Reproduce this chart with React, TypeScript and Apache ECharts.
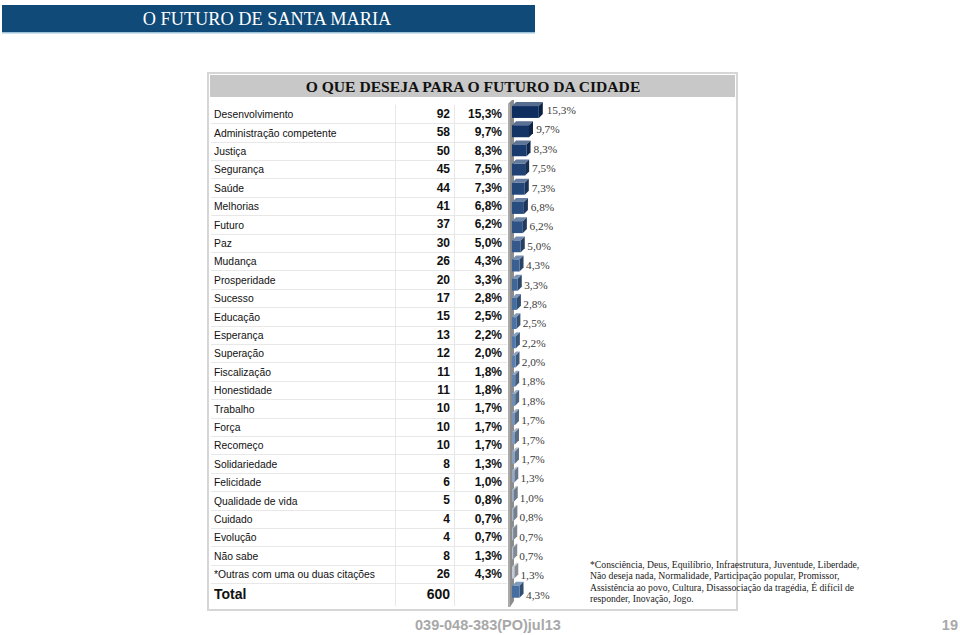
import React, { useEffect, useRef } from "react";
import * as echarts from "echarts";

const categories = [
  "Desenvolvimento", "Administração competente", "Justiça", "Segurança", "Saúde",
  "Melhorias", "Futuro", "Paz", "Mudança", "Prosperidade", "Sucesso", "Educação",
  "Esperança", "Superação", "Fiscalização", "Honestidade", "Trabalho", "Força",
  "Recomeço", "Solidariedade", "Felicidade", "Qualidade de vida", "Cuidado",
  "Evolução", "Não sabe", "*Outras com uma ou duas citações",
];
const counts = [92, 58, 50, 45, 44, 41, 37, 30, 26, 20, 17, 15, 13, 12, 11, 11, 10, 10, 10, 8, 6, 5, 4, 4, 8, 26];
const percents = [15.3, 9.7, 8.3, 7.5, 7.3, 6.8, 6.2, 5.0, 4.3, 3.3, 2.8, 2.5, 2.2, 2.0, 1.8, 1.8, 1.7, 1.7, 1.7, 1.3, 1.0, 0.8, 0.7, 0.7, 1.3, 4.3];
const totalLabel = "Total";
const totalValue = 600;
const mainTitle = "O FUTURO DE SANTA MARIA";
const panelTitle = "O QUE DESEJA PARA O FUTURO DA CIDADE";
const footnote =
  "*Consciência, Deus, Equilíbrio, Infraestrutura, Juventude, Liberdade,\nNão deseja nada, Normalidade, Participação popular, Promissor,\nAssistência ao povo, Cultura, Disassociação da tragédia, É difícil de\nresponder, Inovação, Jogo.";
const footerCode = "039-048-383(PO)jul13";
const pageNumber = "19";

const fmt = (v: number) => v.toFixed(1).replace(".", ",") + "%";

function lerp(a: number[], b: number[], t: number) {
  return a.map((x, i) => Math.round(x + (b[i] - x) * t));
}
function rgb(c: number[]) {
  return `rgb(${c[0]},${c[1]},${c[2]})`;
}
function barColor(i: number, n: number) {
  const dark = [14, 46, 96];
  const mid = [80, 120, 170];
  const light = [196, 202, 212];
  if (i === n - 1) return [70, 110, 160];
  const t = i / (n - 2);
  if (t < 0.5) return lerp(dark, mid, t * 2);
  return lerp(mid, light, (t - 0.5) * 2);
}

export default function App() {
  const ref = useRef<HTMLDivElement>(null);
  useEffect(() => {
    if (!ref.current) return;
    const chart = echarts.init(ref.current, null, { renderer: "svg" });
    const n = categories.length;
    const rowY0 = 114;
    const rowStep = 18.4;
    const sans = "'Liberation Sans', Arial, sans-serif";
    const serif = "'Liberation Serif', 'Times New Roman', serif";

    const graphics: any[] = [];
    graphics.push({
      type: "rect", shape: { x: 2, y: 5, width: 533, height: 28 },
      style: { fill: "#0f4a78" }, z: 1,
    });
    graphics.push({
      type: "rect", shape: { x: 2, y: 32, width: 533, height: 1.5 },
      style: { fill: "#9cc3da" }, z: 1,
    });
    graphics.push({
      type: "text", x: 267, y: 19,
      style: { text: mainTitle, fill: "#ffffff", font: `18.3px ${serif}`, textAlign: "center", textVerticalAlign: "middle" },
      z: 2,
    });
    graphics.push({
      type: "rect", shape: { x: 208, y: 73, width: 529, height: 537 },
      style: { fill: "#ffffff", stroke: "#d6d6d6", lineWidth: 2 }, z: 0,
    });
    graphics.push({
      type: "rect", shape: { x: 210, y: 75, width: 525, height: 22 },
      style: { fill: "#c8c8c8" }, z: 1,
    });
    graphics.push({
      type: "text", x: 473, y: 86.5,
      style: { text: panelTitle, fill: "#111111", font: `bold 15.6px ${serif}`, textAlign: "center", textVerticalAlign: "middle" },
      z: 2,
    });
    const tableTop = rowY0 - rowStep / 2;
    for (let i = 0; i < n; i++) {
      const y = Math.round(tableTop + (i + 1) * rowStep) + 0.5;
      graphics.push({
        type: "line", shape: { x1: 211, y1: y, x2: 507, y2: y },
        style: { stroke: "#e8e8e8", lineWidth: 1 }, z: 1,
      });
    }
    [395.5, 454.5].forEach((x) =>
      graphics.push({
        type: "line", shape: { x1: x, y1: tableTop, x2: x, y2: 606 },
        style: { stroke: "#e8e8e8", lineWidth: 1 }, z: 1,
      })
    );
    categories.forEach((c, i) => {
      const y = rowY0 + i * rowStep;
      graphics.push({
        type: "text", x: 214, y, scaleX: 0.9,
        style: { text: c, fill: "#111111", font: `11.5px ${sans}`, textAlign: "left", textVerticalAlign: "middle" }, z: 2,
      });
      graphics.push({
        type: "text", x: 450, y,
        style: { text: String(counts[i]), fill: "#111111", font: `bold 12px ${sans}`, textAlign: "right", textVerticalAlign: "middle" }, z: 2,
      });
      graphics.push({
        type: "text", x: 502, y,
        style: { text: fmt(percents[i]), fill: "#111111", font: `bold 12px ${sans}`, textAlign: "right", textVerticalAlign: "middle" }, z: 2,
      });
    });
    const totalY = 594;
    graphics.push({
      type: "text", x: 214, y: totalY,
      style: { text: totalLabel, fill: "#111111", font: `bold 14px ${sans}`, textAlign: "left", textVerticalAlign: "middle" }, z: 2,
    });
    graphics.push({
      type: "text", x: 450, y: totalY,
      style: { text: String(totalValue), fill: "#111111", font: `bold 14px ${sans}`, textAlign: "right", textVerticalAlign: "middle" }, z: 2,
    });
    graphics.push({
      type: "text", x: 590, y: 559,
      style: { text: footnote, fill: "#222222", font: `9.7px ${serif}`, lineHeight: 11.2, textAlign: "left", textVerticalAlign: "top" }, z: 2,
    });
    graphics.push({
      type: "text", x: 415, y: 625,
      style: { text: footerCode, fill: "#a8a8a8", font: `bold 14.5px ${sans}`, textAlign: "left", textVerticalAlign: "middle" }, z: 2,
    });
    graphics.push({
      type: "text", x: 958, y: 625,
      style: { text: pageNumber, fill: "#a8a8a8", font: `bold 14.5px ${sans}`, textAlign: "right", textVerticalAlign: "middle" }, z: 2,
    });
    graphics.push({
      type: "polygon",
      shape: { points: [[508, 104], [512, 100], [514, 100], [514, 601], [510, 607], [508, 607]] },
      style: { fill: "#8c8c8c" }, z: 1,
    });
    graphics.push({
      type: "line", shape: { x1: 509, y1: 104, x2: 509, y2: 607 },
      style: { stroke: "#c8c8c8", lineWidth: 1 }, z: 1,
    });

    const depth = 4;
    const option: any = {
      animation: false,
      backgroundColor: "#ffffff",
      grid: { left: 512, top: 101.4, width: 90, height: 499, containLabel: false },
      xAxis: { type: "value", min: 0, max: 51.4, show: false },
      yAxis: {
        type: "category", data: categories, inverse: true,
        axisLine: { show: false }, axisTick: { show: false }, axisLabel: { show: false }, splitLine: { show: false },
      },
      graphic: graphics,
      series: [
        {
          type: "custom",
          data: percents.map((v, i) => [v, i]),
          encode: { x: 0, y: 1 },
          z: 5,
          renderItem: (params: any, api: any) => {
            const v = api.value(0);
            const idx = api.value(1);
            const start = api.coord([0, idx]);
            const end = api.coord([v, idx]);
            const band = api.size([0, 1])[1];
            const h = band * 0.62;
            const x0 = start[0];
            const x1 = end[0];
            const yT = start[1] - h / 2 + 1;
            const yB = yT + h;
            const c = barColor(idx, n);
            const front = rgb(c);
            const top = rgb(lerp(c, [255, 255, 255], 0.3));
            const side = rgb(lerp(c, [0, 0, 0], 0.3));
            return {
              type: "group",
              children: [
                {
                  type: "polygon",
                  shape: { points: [[x0, yT], [x0 + depth, yT - depth], [x1 + depth, yT - depth], [x1, yT]] },
                  style: { fill: top },
                },
                {
                  type: "polygon",
                  shape: { points: [[x1, yT], [x1 + depth, yT - depth], [x1 + depth, yB - depth], [x1, yB]] },
                  style: { fill: side },
                },
                {
                  type: "rect",
                  shape: { x: x0, y: yT, width: Math.max(x1 - x0, 0.5), height: h },
                  style: { fill: front },
                },
                {
                  type: "text",
                  x: x1 + depth + 2 + 0.12 * v, y: start[1] - 1 + idx * 0.2,
                  style: { text: fmt(v), fill: "#3a3a3a", font: `11.3px ${serif}`, textAlign: "left", textVerticalAlign: "middle" },
                },
              ],
            };
          },
        },
      ],
    };
    chart.setOption(option);
    return () => chart.dispose();
  }, []);
  return <div ref={ref} style={{ position: "absolute", left: 0, top: 0, width: 960, height: 635 }} />;
}
